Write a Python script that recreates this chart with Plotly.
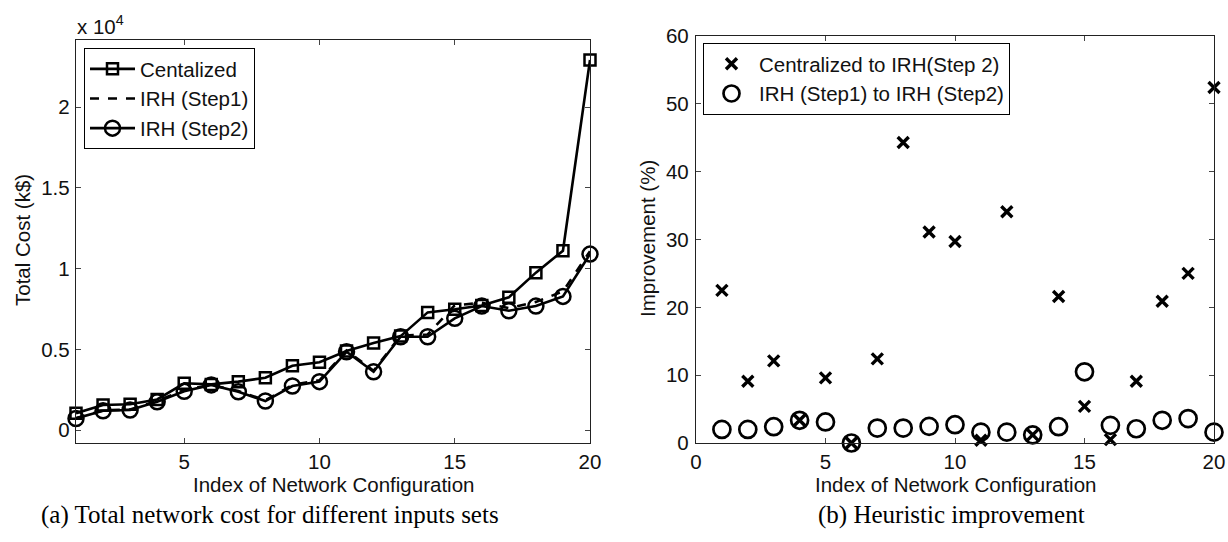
import plotly.graph_objects as go

W, H = 1228, 542

# ---- data: left panel (total cost, k$) ----
idx = list(range(1, 21))
centralized = [1050, 1550, 1600, 1900, 2900, 2830, 3000, 3240, 3980, 4200,
               4900, 5400, 5820, 7290, 7480, 7720, 8220, 9750, 11110, 22920]
irh_step1 = [735, 1225, 1270, 1810, 2480, 2800, 2420, 1840, 2800, 3080,
             4930, 3670, 5850, 5920, 7730, 7880, 7550, 7940, 8590, 11080]
irh_step2 = [720, 1200, 1240, 1750, 2400, 2800, 2370, 1800, 2730, 3000,
             4850, 3610, 5780, 5780, 6920, 7680, 7390, 7680, 8280, 10900]

# ---- data: right panel (improvement, %) ----
imp_central = [22.5, 9.1, 12.1, 3.35, 9.6, 0.0, 12.4, 44.3, 31.1, 29.7,
               0.4, 34.1, 1.2, 21.6, 5.4, 0.5, 9.1, 20.9, 25.0, 52.4]
imp_irh = [2.0, 2.0, 2.4, 3.35, 3.1, 0.0, 2.2, 2.2, 2.45, 2.7,
           1.6, 1.6, 1.2, 2.4, 10.5, 2.6, 2.1, 3.35, 3.6, 1.6]

left_ytick_vals = [0, 5000, 10000, 15000, 20000]
left_ytick_text = ["0", "0.5", "1", "1.5", "2"]
left_xticks = [5, 10, 15, 20]
right_xticks = [0, 5, 10, 15, 20]
right_yticks = [0, 10, 20, 30, 40, 50, 60]

FONT = "Liberation Sans, Arial, sans-serif"
FS = 20.5

def px(x):
    return x / W

def py(y):
    return 1 - y / H

fig = go.Figure()

fig.add_trace(go.Scatter(
    x=idx, y=centralized, name="Centalized", mode="lines+markers",
    line=dict(color="black", width=2.6),
    marker=dict(symbol="square-open", size=11, color="black", line=dict(width=2.5, color="black")),
    xaxis="x", yaxis="y", legend="legend", cliponaxis=False))
fig.add_trace(go.Scatter(
    x=idx, y=irh_step1, name="IRH (Step1)", mode="lines",
    line=dict(color="black", width=2.6, dash="dash"),
    xaxis="x", yaxis="y", legend="legend", cliponaxis=False))
fig.add_trace(go.Scatter(
    x=idx, y=irh_step2, name="IRH (Step2)", mode="lines+markers",
    line=dict(color="black", width=2.6),
    marker=dict(symbol="circle-open", size=15, color="black", line=dict(width=2.5, color="black")),
    xaxis="x", yaxis="y", legend="legend", cliponaxis=False))

fig.add_trace(go.Scatter(
    x=idx, y=imp_central, name="Centralized to IRH(Step 2)", mode="markers",
    marker=dict(symbol="x-thin-open", size=11, color="black", line=dict(width=3.4, color="black")),
    xaxis="x2", yaxis="y2", legend="legend2", cliponaxis=False))
fig.add_trace(go.Scatter(
    x=idx, y=imp_irh, name="IRH (Step1) to IRH (Step2)", mode="markers",
    marker=dict(symbol="circle-open", size=17, color="black", line=dict(width=2.7, color="black")),
    xaxis="x2", yaxis="y2", legend="legend2", cliponaxis=False))

axis_common = dict(showline=True, linecolor="#222", linewidth=1.4, mirror="ticks",
                   ticks="inside", ticklen=5, tickcolor="#444", tickwidth=1,
                   showgrid=False, zeroline=False, automargin=False,
                   tickfont=dict(family=FONT, size=FS, color="#111"))

fig.update_layout(
    width=W, height=H, margin=dict(l=0, r=0, t=0, b=0, pad=0, autoexpand=False),
    paper_bgcolor="white", plot_bgcolor="white",
    font=dict(family=FONT, size=FS, color="#111"),
    xaxis=dict(domain=[px(76), px(590)], range=[1, 20], tickvals=left_xticks,
               anchor="y", **axis_common),
    yaxis=dict(domain=[py(443), py(40)], range=[-800, 24160],
               tickvals=left_ytick_vals, ticktext=left_ytick_text,
               anchor="x", ticklabelstandoff=1, **axis_common),
    xaxis2=dict(domain=[px(696), px(1214)], range=[0, 20], tickvals=right_xticks,
                anchor="y2", **axis_common),
    yaxis2=dict(domain=[py(443), py(36)], range=[0, 60], tickvals=right_yticks,
                anchor="x2", ticklabelstandoff=2, **axis_common),
    legend=dict(x=px(84), y=py(48), xanchor="left", yanchor="top",
                bgcolor="white", bordercolor="black", borderwidth=1,
                font=dict(family=FONT, size=FS, color="#111"),
                itemwidth=45, tracegroupgap=0),
    legend2=dict(x=px(703), y=py(43), xanchor="left", yanchor="top",
                 bgcolor="white", bordercolor="black", borderwidth=1,
                 font=dict(family=FONT, size=FS, color="#111"),
                 itemwidth=45, tracegroupgap=0),
    showlegend=True,
)

ann = [
    dict(text="x 10<sup>4</sup>", x=px(75), y=py(25), xanchor="left", yanchor="middle"),
    dict(text="Total Cost (k$)", x=px(22), y=py(240), textangle=-90),
    dict(text="Index of Network Configuration", x=px(333), y=py(484)),
    dict(text="Improvement (%)", x=px(647), y=py(239), textangle=-90),
    dict(text="Index of Network Configuration", x=px(955), y=py(484)),
]
for a in ann:
    a.setdefault("xanchor", "center")
    a.setdefault("yanchor", "middle")
    fig.add_annotation(xref="paper", yref="paper", showarrow=False,
                       font=dict(family=FONT, size=FS, color="#111"), **a)

CAP_FONT = "Liberation Serif, DejaVu Serif, serif"
fig.add_annotation(text="(a) Total network cost for different inputs sets",
                   x=px(270), y=py(515), xref="paper", yref="paper", showarrow=False,
                   xanchor="center", yanchor="middle",
                   font=dict(family=CAP_FONT, size=25, color="black"))
fig.add_annotation(text="(b) Heuristic improvement",
                   x=px(951), y=py(515), xref="paper", yref="paper", showarrow=False,
                   xanchor="center", yanchor="middle",
                   font=dict(family=CAP_FONT, size=25, color="black"))

fig.write_html("out.html")
